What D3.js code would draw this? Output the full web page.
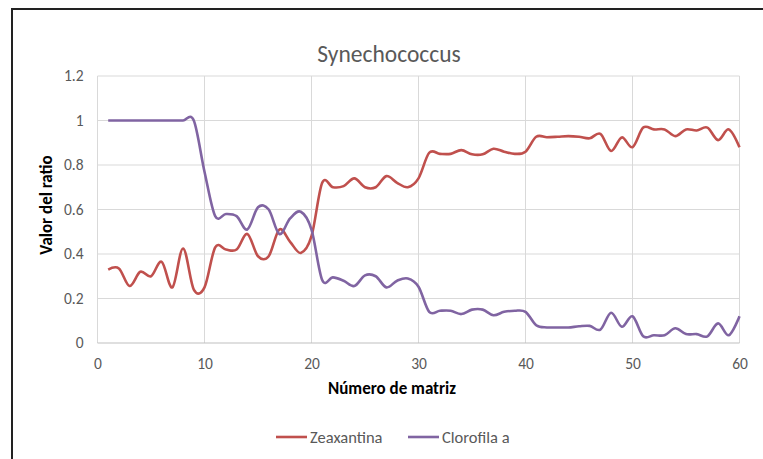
<!DOCTYPE html>
<html>
<head>
<meta charset="utf-8">
<script src="https://cdn.jsdelivr.net/npm/d3@7"></script>
<style>
  body { margin: 0; background: #fff; }
  svg { display: block; font-family: Calibri, Carlito, Lato, "Open Sans", sans-serif; }
</style>
</head>
<body>
<svg id="chart" width="763" height="459"></svg>
<script>
"use strict";

// matrix numbers 1..60
let matrix = d3.range(1, 61);

// Zeaxantina ratio (red)
let zeaxantina = [
  0.33, 0.335, 0.256, 0.32, 0.30, 0.365, 0.25, 0.425, 0.24, 0.25,
  0.43, 0.42, 0.42, 0.49, 0.39, 0.39, 0.51, 0.455, 0.405, 0.48,
  0.72, 0.70, 0.705, 0.74, 0.70, 0.70, 0.75, 0.72, 0.70, 0.74,
  0.855, 0.85, 0.85, 0.867, 0.848, 0.848, 0.873, 0.86, 0.85, 0.86,
  0.927, 0.925, 0.927, 0.93, 0.927, 0.92, 0.94, 0.863, 0.924, 0.88,
  0.968, 0.96, 0.96, 0.93, 0.96, 0.955, 0.968, 0.912, 0.96, 0.88
];

// Clorofila a ratio (purple)
let clorofila = [
  1.0, 1.0, 1.0, 1.0, 1.0, 1.0, 1.0, 1.0, 1.0, 0.77,
  0.57, 0.58, 0.57, 0.51, 0.61, 0.60, 0.49, 0.56, 0.59, 0.51,
  0.283, 0.295, 0.28, 0.256, 0.304, 0.30, 0.25, 0.28, 0.29, 0.253,
  0.14, 0.145, 0.145, 0.13, 0.15, 0.15, 0.125, 0.14, 0.145, 0.14,
  0.08, 0.07, 0.07, 0.07, 0.075, 0.077, 0.06, 0.136, 0.073, 0.12,
  0.03, 0.035, 0.035, 0.066, 0.04, 0.04, 0.03, 0.088, 0.035, 0.12
];

let xTicks = [0, 10, 20, 30, 40, 50, 60];
let yTicks = [0, 0.2, 0.4, 0.6, 0.8, 1, 1.2];

let svg = d3.select("#chart");
let font = "Calibri, Carlito, Lato, 'Open Sans', sans-serif";

// outer frame (only top and left edges show in the picture)
svg.append("rect")
  .attr("x", 12).attr("y", 9)
  .attr("width", 800).attr("height", 500)
  .attr("fill", "none")
  .attr("stroke", "#222")
  .attr("stroke-width", 2);

let plotLeft = 97.5, plotRight = 739.5, plotTop = 76, plotBottom = 343;

let x = d3.scaleLinear().domain([0, 60]).range([plotLeft, plotRight]);
let y = d3.scaleLinear().domain([0, 1.2]).range([plotBottom, plotTop]);

// grid lines
svg.append("g")
  .selectAll("line")
  .data(xTicks)
  .join("line")
  .attr("x1", d => x(d)).attr("x2", d => x(d))
  .attr("y1", plotTop).attr("y2", plotBottom)
  .attr("stroke", "#d9d9d9").attr("stroke-width", 1);

svg.append("g")
  .selectAll("line")
  .data(yTicks)
  .join("line")
  .attr("x1", plotLeft).attr("x2", plotRight)
  .attr("y1", d => y(d)).attr("y2", d => y(d))
  .attr("stroke", d => d === 0 ? "#bfbfbf" : "#d9d9d9").attr("stroke-width", 1);

// tick labels via axes (no domain lines, no tick marks)
let yAxis = svg.append("g")
  .attr("transform", `translate(${plotLeft - 14}, 0)`)
  .call(d3.axisLeft(y).tickValues(yTicks).tickSize(0).tickPadding(0)
    .tickFormat(d => String(+d.toFixed(1))));
yAxis.select(".domain").remove();
yAxis.selectAll("text")
  .attr("fill", "#595959")
  .style("font-size", "15.5px")
  .style("font-family", font);

let xAxis = svg.append("g")
  .attr("transform", `translate(0, ${plotBottom + 15})`)
  .call(d3.axisBottom(x).tickValues(xTicks).tickSize(0).tickPadding(0));
xAxis.select(".domain").remove();
xAxis.selectAll("text")
  .attr("fill", "#595959")
  .style("font-size", "15.5px")
  .style("font-family", font);

// smoothed lines
let line = d3.line()
  .x(d => x(d[0]))
  .y(d => y(d[1]))
  .curve(d3.curveCardinal.tension(0));

let series = [
  { name: "Zeaxantina", values: zeaxantina, color: "#c0504d" },
  { name: "Clorofila a", values: clorofila, color: "#8064a2" }
];

series.forEach(s => {
  svg.append("path")
    .datum(matrix.map((m, i) => [m, s.values[i]]))
    .attr("d", line)
    .attr("fill", "none")
    .attr("stroke", s.color)
    .attr("stroke-width", 2.6)
    .attr("stroke-linejoin", "round");
});

// title
svg.append("text")
  .attr("x", 389).attr("y", 62)
  .attr("text-anchor", "middle")
  .attr("fill", "#595959")
  .style("font-size", "23.5px")
  .text("Synechococcus");

// axis titles
svg.append("text")
  .attr("x", 392).attr("y", 394)
  .attr("text-anchor", "middle")
  .attr("fill", "#000")
  .style("font-size", "17px")
  .style("font-weight", "bold")
  .text("Número de matriz");

svg.append("text")
  .attr("transform", "rotate(-90)")
  .attr("x", -205).attr("y", 52)
  .attr("text-anchor", "middle")
  .attr("fill", "#000")
  .style("font-size", "17px")
  .style("font-weight", "bold")
  .text("Valor del ratio");

// legend
let legendX = [276, 408];
series.forEach((s, i) => {
  let g = svg.append("g").attr("transform", `translate(${legendX[i]}, 437)`);
  g.append("line")
    .attr("x1", 0).attr("x2", 31)
    .attr("y1", 0).attr("y2", 0)
    .attr("stroke", s.color).attr("stroke-width", 2.6);
  g.append("text")
    .attr("x", 34).attr("y", 5.5)
    .attr("fill", "#595959")
    .style("font-size", "16.5px")
    .text(s.name);
});
</script>
</body>
</html>
